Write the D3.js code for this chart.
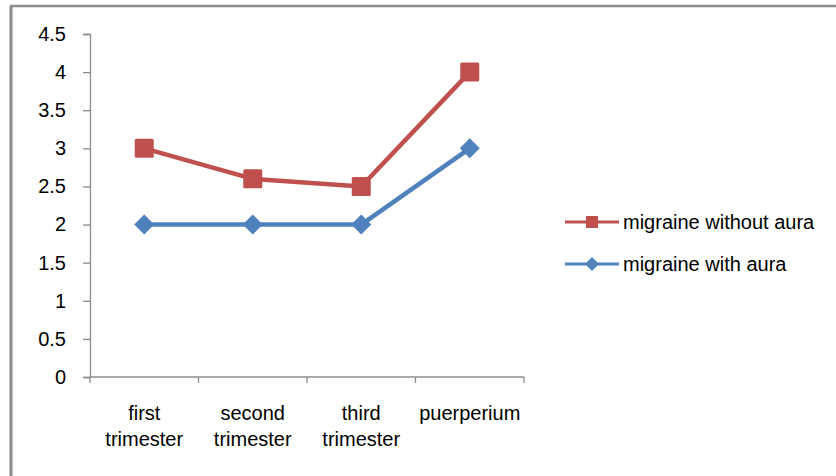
<!DOCTYPE html>
<html>
<head>
<meta charset="utf-8">
<script src="https://cdn.jsdelivr.net/npm/d3@7"></script>
<style>
  html, body { margin: 0; padding: 0; background: #fff; }
  svg { display: block; }
  text { font-family: "Liberation Sans", Arial, sans-serif; fill: #000; }
</style>
</head>
<body>
<svg id="chart" width="836" height="476"></svg>
<script>
// Periods along the x axis
const periods = ["first trimester", "second trimester", "third trimester", "puerperium"];
const periodLines = [["first", "trimester"], ["second", "trimester"], ["third", "trimester"], ["puerperium"]];

// Series values per period
const withoutAura = [3, 2.6, 2.5, 4];
const withAura = [2, 2, 2, 3];

const seriesNames = ["migraine without aura", "migraine with aura"];
const yTicks = [0, 0.5, 1, 1.5, 2, 2.5, 3, 3.5, 4, 4.5];

const svg = d3.select("#chart");
const W = 836, H = 476;
const fontSize = "20px";

// Outer frame (left and top edges)
svg.append("line").attr("x1", 11).attr("x2", 11).attr("y1", 6).attr("y2", H)
  .attr("stroke", "#8c8c8c").attr("stroke-width", 3);
svg.append("line").attr("x1", 10).attr("x2", W).attr("y1", 6).attr("y2", 6)
  .attr("stroke", "#8c8c8c").attr("stroke-width", 2.5);

const plot = { left: 90, right: 524, top: 34, bottom: 377 };

const x = d3.scaleBand().domain(periods).range([plot.left, plot.right]).paddingInner(0).paddingOuter(0);
const y = d3.scaleLinear().domain([0, 4.5]).range([plot.bottom, plot.top]);
const cx = d => x(d) + x.bandwidth() / 2;

const axisColor = "#8c8c8c";

// Y axis
const yAxis = svg.append("g").attr("transform", `translate(${plot.left},0)`)
  .call(d3.axisLeft(y).tickValues(yTicks).tickSize(7).tickPadding(17).tickFormat(d3.format("")));
yAxis.select(".domain").attr("stroke", axisColor).attr("stroke-width", 1.3);
yAxis.selectAll(".tick line").attr("stroke", axisColor).attr("stroke-width", 1.3);
yAxis.selectAll(".tick text").style("font-size", fontSize)
  .style("font-family", "'Liberation Sans', Arial, sans-serif").attr("fill", "#000");

// X axis line and tick marks at band boundaries
const xg = svg.append("g");
xg.append("line").attr("x1", plot.left).attr("x2", plot.right).attr("y1", plot.bottom).attr("y2", plot.bottom)
  .attr("stroke", axisColor).attr("stroke-width", 1.3);
const bounds = periods.map(p => x(p)).concat([x(periods[periods.length - 1]) + x.bandwidth()]);
xg.selectAll("line.tk").data(bounds).enter().append("line").attr("class", "tk")
  .attr("x1", d => d).attr("x2", d => d).attr("y1", plot.bottom).attr("y2", plot.bottom + 6)
  .attr("stroke", axisColor).attr("stroke-width", 1.3);

// Category labels
periods.forEach((p, i) => {
  const t = svg.append("text").attr("x", cx(p)).attr("y", 420).attr("text-anchor", "middle")
    .style("font-size", fontSize);
  periodLines[i].forEach((ln, j) => {
    t.append("tspan").attr("x", cx(p)).attr("dy", j === 0 ? 0 : 25.5).text(ln);
  });
});

const red = "#c0504d", blue = "#4f81bd";
const line = d3.line().x((d, i) => cx(periods[i])).y(d => y(d));

// Series lines
svg.append("path").datum(withAura).attr("d", line).attr("fill", "none")
  .attr("stroke", blue).attr("stroke-width", 4.5).attr("stroke-linejoin", "round");
svg.append("path").datum(withoutAura).attr("d", line).attr("fill", "none")
  .attr("stroke", red).attr("stroke-width", 4.5).attr("stroke-linejoin", "round");

// Markers
const sq = 19, dm = 10;
svg.selectAll("rect.mk").data(withoutAura).enter().append("rect").attr("class", "mk")
  .attr("x", (d, i) => cx(periods[i]) - sq / 2).attr("y", d => y(d) - sq / 2)
  .attr("width", sq).attr("height", sq).attr("rx", 1.5).attr("fill", red);
svg.selectAll("path.mk").data(withAura).enter().append("path").attr("class", "mk")
  .attr("d", (d, i) => {
    const px = cx(periods[i]), py = y(d);
    return `M${px},${py - dm}L${px + dm},${py}L${px},${py + dm}L${px - dm},${py}Z`;
  }).attr("fill", blue);

// Legend
const legend = svg.append("g");
const legY = [222, 264];
const legColors = [red, blue];
seriesNames.forEach((name, i) => {
  const g = legend.append("g").attr("transform", `translate(0,${legY[i]})`);
  g.append("line").attr("x1", 565).attr("x2", 619).attr("y1", 0).attr("y2", 0)
    .attr("stroke", legColors[i]).attr("stroke-width", 3);
  if (i === 0) {
    g.append("rect").attr("x", 586).attr("y", -6).attr("width", 12).attr("height", 12).attr("fill", red);
  } else {
    g.append("path").attr("d", "M592,-7L599,0L592,7L585,0Z").attr("fill", blue);
  }
  g.append("text").attr("x", 623).attr("y", 7).style("font-size", fontSize).text(name);
});
</script>
</body>
</html>
